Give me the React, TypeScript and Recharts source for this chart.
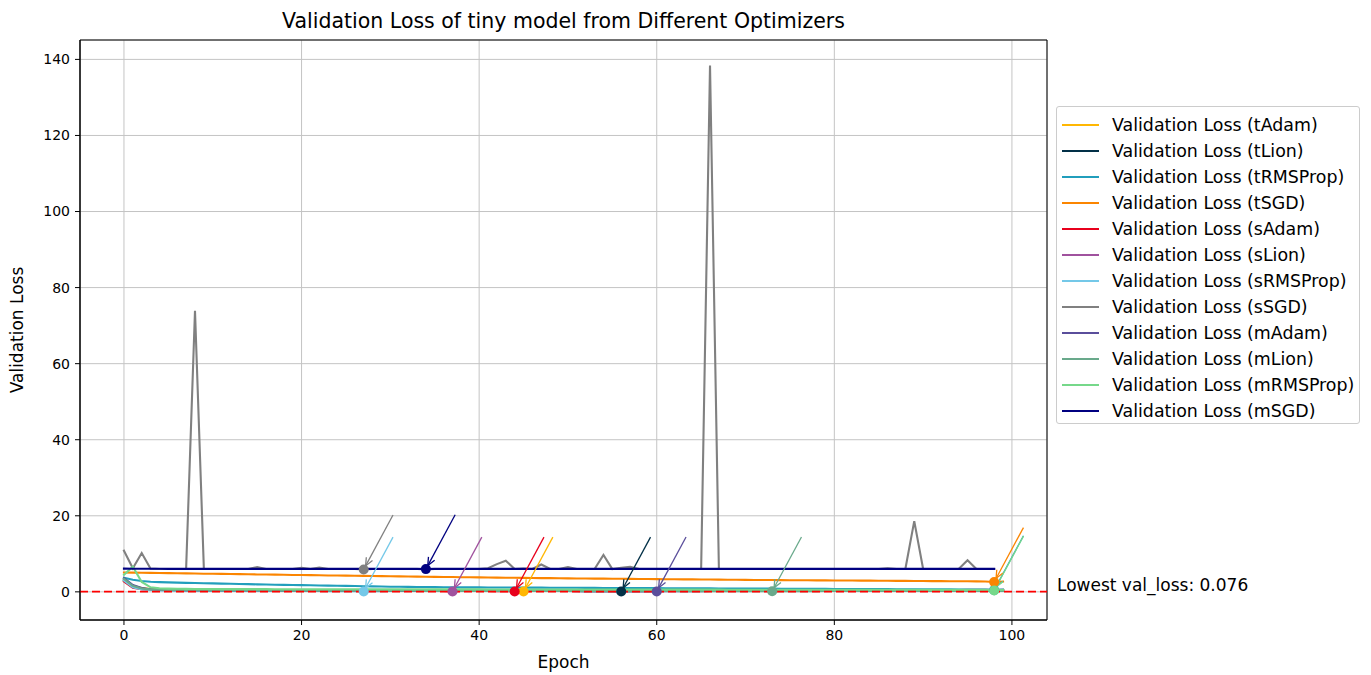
import React from 'react';
import { LineChart, Line, XAxis, YAxis, CartesianGrid, ReferenceLine, ReferenceDot, ReferenceArea } from 'recharts';

// epochs 0..99
const epochs = Array.from({ length: 100 }, (_, i) => i);

const seriesNames = ['tAdam', 'tLion', 'tRMSProp', 'tSGD', 'sAdam', 'sLion', 'sRMSProp', 'sSGD', 'mAdam', 'mLion', 'mRMSProp', 'mSGD'];
const seriesColors = ['#FFB703', '#023047', '#219EBC', '#FB8500', '#E8001C', '#A0529E', '#74C8E8', '#808080', '#5A4E9B', '#69A98B', '#76D88A', '#000080'];

const tAdam = [
  2.90, 1.60, 1.00, 0.75, 0.62, 0.55, 0.50, 0.47, 0.45, 0.43,
  0.41, 0.40, 0.39, 0.38, 0.37, 0.36, 0.35, 0.35, 0.34, 0.33,
  0.33, 0.32, 0.32, 0.31, 0.31, 0.30, 0.30, 0.29, 0.29, 0.28,
  0.28, 0.27, 0.27, 0.26, 0.26, 0.25, 0.25, 0.24, 0.24, 0.23,
  0.23, 0.22, 0.22, 0.21, 0.21, 0.10, 0.21, 0.22, 0.22, 0.23,
  0.23, 0.24, 0.24, 0.25, 0.25, 0.26, 0.26, 0.27, 0.27, 0.28,
  0.28, 0.29, 0.29, 0.30, 0.30, 0.31, 0.31, 0.32, 0.32, 0.33,
  0.33, 0.34, 0.34, 0.35, 0.35, 0.36, 0.36, 0.37, 0.37, 0.38,
  0.38, 0.39, 0.39, 0.40, 0.40, 0.41, 0.41, 0.42, 0.42, 0.43,
  0.43, 0.44, 0.44, 0.45, 0.45, 0.46, 0.46, 0.47, 0.47, 0.48,
];
const tLion = [
  3.10, 1.40, 0.85, 0.62, 0.52, 0.47, 0.44, 0.42, 0.40, 0.39,
  0.38, 0.37, 0.36, 0.36, 0.35, 0.34, 0.34, 0.33, 0.33, 0.32,
  0.32, 0.31, 0.31, 0.30, 0.30, 0.30, 0.29, 0.29, 0.28, 0.28,
  0.28, 0.27, 0.27, 0.27, 0.26, 0.26, 0.26, 0.25, 0.25, 0.25,
  0.24, 0.24, 0.24, 0.23, 0.23, 0.23, 0.22, 0.22, 0.22, 0.21,
  0.21, 0.21, 0.20, 0.20, 0.20, 0.19, 0.09, 0.19, 0.20, 0.20,
  0.21, 0.21, 0.22, 0.22, 0.23, 0.23, 0.24, 0.24, 0.25, 0.25,
  0.26, 0.26, 0.27, 0.27, 0.28, 0.28, 0.29, 0.29, 0.30, 0.30,
  0.31, 0.31, 0.32, 0.32, 0.33, 0.33, 0.34, 0.34, 0.35, 0.35,
  0.36, 0.36, 0.37, 0.37, 0.38, 0.38, 0.39, 0.39, 0.40, 0.40,
];
const tRMSProp = [
  3.70, 3.20, 2.85, 2.65, 2.55, 2.48, 2.42, 2.37, 2.32, 2.27,
  2.22, 2.17, 2.12, 2.07, 2.02, 1.97, 1.92, 1.88, 1.84, 1.80,
  1.76, 1.72, 1.68, 1.64, 1.60, 1.56, 1.52, 1.48, 1.44, 1.40,
  1.36, 1.33, 1.30, 1.28, 1.26, 1.24, 1.22, 1.20, 1.19, 1.18,
  1.17, 1.16, 1.15, 1.14, 1.13, 1.12, 1.11, 1.10, 1.09, 1.08,
  1.07, 1.06, 1.05, 1.04, 1.03, 1.02, 1.01, 1.00, 0.99, 0.98,
  0.97, 0.96, 0.95, 0.94, 0.93, 0.92, 0.91, 0.90, 0.89, 0.88,
  0.87, 0.86, 0.85, 0.84, 0.83, 0.82, 0.81, 0.80, 0.79, 0.78,
  0.77, 0.76, 0.75, 0.74, 0.73, 0.72, 0.71, 0.70, 0.69, 0.68,
  0.67, 0.66, 0.65, 0.64, 0.63, 0.62, 0.61, 0.60, 0.45, 0.59,
];
const tSGD = [
  5.10, 5.06, 5.03, 4.99, 4.96, 4.92, 4.89, 4.85, 4.82, 4.78,
  4.75, 4.72, 4.68, 4.65, 4.62, 4.58, 4.55, 4.52, 4.48, 4.45,
  4.42, 4.39, 4.35, 4.32, 4.29, 4.26, 4.23, 4.19, 4.16, 4.13,
  4.10, 4.07, 4.04, 4.01, 3.98, 3.95, 3.92, 3.89, 3.86, 3.83,
  3.80, 3.77, 3.75, 3.72, 3.70, 3.67, 3.65, 3.62, 3.60, 3.57,
  3.55, 3.53, 3.51, 3.49, 3.47, 3.45, 3.43, 3.41, 3.39, 3.37,
  3.35, 3.33, 3.31, 3.29, 3.27, 3.25, 3.23, 3.21, 3.19, 3.17,
  3.15, 3.13, 3.12, 3.10, 3.09, 3.07, 3.06, 3.04, 3.03, 3.01,
  3.00, 2.98, 2.97, 2.95, 2.94, 2.92, 2.91, 2.89, 2.88, 2.86,
  2.85, 2.83, 2.82, 2.80, 2.79, 2.77, 2.76, 2.74, 2.60, 2.72,
];
const sAdam = [
  2.70, 1.10, 0.70, 0.55, 0.48, 0.44, 0.41, 0.39, 0.37, 0.36,
  0.35, 0.34, 0.33, 0.33, 0.32, 0.31, 0.31, 0.30, 0.30, 0.29,
  0.29, 0.28, 0.28, 0.27, 0.27, 0.26, 0.26, 0.26, 0.25, 0.25,
  0.24, 0.24, 0.24, 0.23, 0.23, 0.23, 0.22, 0.22, 0.22, 0.21,
  0.21, 0.21, 0.20, 0.20, 0.09, 0.20, 0.21, 0.21, 0.22, 0.22,
  0.23, 0.23, 0.24, 0.24, 0.25, 0.25, 0.26, 0.26, 0.27, 0.27,
  0.28, 0.28, 0.29, 0.29, 0.30, 0.30, 0.31, 0.31, 0.32, 0.32,
  0.33, 0.33, 0.34, 0.34, 0.35, 0.35, 0.36, 0.36, 0.37, 0.37,
  0.38, 0.38, 0.39, 0.39, 0.40, 0.40, 0.41, 0.41, 0.42, 0.42,
  0.43, 0.43, 0.44, 0.44, 0.45, 0.45, 0.46, 0.46, 0.47, 0.47,
];
const sLion = [
  3.20, 1.50, 0.80, 0.60, 0.50, 0.45, 0.42, 0.40, 0.38, 0.37,
  0.36, 0.35, 0.34, 0.33, 0.33, 0.32, 0.31, 0.31, 0.30, 0.30,
  0.29, 0.29, 0.28, 0.28, 0.27, 0.27, 0.26, 0.26, 0.25, 0.25,
  0.25, 0.24, 0.24, 0.23, 0.23, 0.23, 0.22, 0.09, 0.22, 0.23,
  0.23, 0.24, 0.24, 0.25, 0.25, 0.26, 0.26, 0.27, 0.27, 0.28,
  0.28, 0.29, 0.29, 0.30, 0.30, 0.31, 0.31, 0.32, 0.32, 0.33,
  0.33, 0.34, 0.34, 0.35, 0.35, 0.36, 0.36, 0.37, 0.37, 0.38,
  0.38, 0.39, 0.39, 0.40, 0.40, 0.41, 0.41, 0.42, 0.42, 0.43,
  0.43, 0.44, 0.44, 0.45, 0.45, 0.46, 0.46, 0.47, 0.47, 0.48,
  0.48, 0.49, 0.49, 0.50, 0.50, 0.51, 0.51, 0.52, 0.52, 0.53,
];
const sRMSProp = [
  3.00, 1.20, 0.65, 0.48, 0.40, 0.36, 0.33, 0.31, 0.29, 0.28,
  0.27, 0.26, 0.25, 0.25, 0.24, 0.24, 0.23, 0.23, 0.22, 0.22,
  0.21, 0.21, 0.21, 0.20, 0.20, 0.20, 0.19, 0.076, 0.20, 0.20,
  0.21, 0.21, 0.22, 0.22, 0.23, 0.23, 0.24, 0.24, 0.25, 0.25,
  0.26, 0.26, 0.27, 0.27, 0.28, 0.28, 0.29, 0.29, 0.30, 0.30,
  0.31, 0.31, 0.32, 0.32, 0.33, 0.33, 0.34, 0.34, 0.35, 0.35,
  0.36, 0.36, 0.37, 0.37, 0.38, 0.38, 0.39, 0.39, 0.40, 0.40,
  0.41, 0.41, 0.42, 0.42, 0.43, 0.43, 0.44, 0.44, 0.45, 0.45,
  0.46, 0.46, 0.47, 0.47, 0.48, 0.48, 0.49, 0.49, 0.50, 0.50,
  0.51, 0.51, 0.52, 0.52, 0.53, 0.53, 0.54, 0.54, 0.55, 0.55,
];
const sSGD = [
  10.8, 6.2, 10.2, 6.1, 6.0, 6.0, 6.0, 6.0, 73.9, 6.0,
  6.0, 6.0, 6.0, 6.0, 6.0, 6.5, 6.0, 6.0, 6.0, 6.0,
  6.3, 6.0, 6.4, 6.0, 6.0, 6.0, 6.0, 5.9, 6.0, 6.0,
  6.0, 6.0, 6.0, 6.0, 6.0, 6.0, 6.0, 6.0, 6.0, 6.0,
  6.0, 6.2, 7.3, 8.2, 6.0, 6.1, 6.0, 7.2, 6.0, 6.0,
  6.5, 6.0, 6.0, 6.0, 9.7, 6.0, 6.3, 6.6, 6.0, 6.0,
  6.0, 6.0, 6.0, 6.0, 6.0, 6.0, 138.4, 6.0, 6.0, 6.0,
  6.0, 6.0, 6.0, 6.0, 6.0, 6.0, 6.0, 6.0, 6.0, 6.0,
  6.0, 6.0, 6.0, 6.0, 6.0, 6.0, 6.2, 6.0, 6.0, 18.6,
  6.0, 6.0, 6.0, 6.0, 6.0, 8.3, 6.0, 6.0, 6.0,
];
const mAdam = [
  3.60, 1.80, 1.00, 0.70, 0.58, 0.52, 0.48, 0.45, 0.43, 0.41,
  0.40, 0.39, 0.38, 0.37, 0.36, 0.35, 0.35, 0.34, 0.33, 0.33,
  0.32, 0.32, 0.31, 0.31, 0.30, 0.30, 0.29, 0.29, 0.28, 0.28,
  0.27, 0.27, 0.27, 0.26, 0.26, 0.26, 0.25, 0.25, 0.25, 0.24,
  0.24, 0.24, 0.23, 0.23, 0.23, 0.22, 0.22, 0.22, 0.21, 0.21,
  0.21, 0.20, 0.20, 0.20, 0.19, 0.19, 0.19, 0.18, 0.18, 0.18,
  0.11, 0.18, 0.19, 0.19, 0.20, 0.20, 0.21, 0.21, 0.22, 0.22,
  0.23, 0.23, 0.24, 0.24, 0.25, 0.25, 0.26, 0.26, 0.27, 0.27,
  0.28, 0.28, 0.29, 0.29, 0.30, 0.30, 0.31, 0.31, 0.32, 0.32,
  0.33, 0.33, 0.34, 0.34, 0.35, 0.35, 0.36, 0.36, 0.37, 0.37,
];
const mLion = [
  3.40, 1.60, 0.90, 0.66, 0.55, 0.49, 0.46, 0.43, 0.41, 0.40,
  0.39, 0.38, 0.37, 0.36, 0.35, 0.35, 0.34, 0.34, 0.33, 0.33,
  0.32, 0.32, 0.31, 0.31, 0.31, 0.30, 0.30, 0.30, 0.29, 0.29,
  0.29, 0.28, 0.28, 0.28, 0.27, 0.27, 0.27, 0.27, 0.26, 0.26,
  0.26, 0.26, 0.25, 0.25, 0.25, 0.25, 0.24, 0.24, 0.24, 0.24,
  0.23, 0.23, 0.23, 0.23, 0.22, 0.22, 0.22, 0.22, 0.21, 0.21,
  0.21, 0.21, 0.21, 0.20, 0.20, 0.20, 0.20, 0.20, 0.19, 0.19,
  0.19, 0.19, 0.19, 0.14, 0.19, 0.19, 0.20, 0.20, 0.20, 0.21,
  0.21, 0.21, 0.22, 0.22, 0.22, 0.23, 0.23, 0.23, 0.24, 0.24,
  0.24, 0.25, 0.25, 0.25, 0.26, 0.26, 0.26, 0.27, 0.27, 0.27,
];
const mRMSProp = [
  4.50, 6.60, 2.60, 1.20, 0.95, 0.85, 0.80, 0.78, 0.76, 0.75,
  0.74, 0.73, 0.73, 0.72, 0.72, 0.71, 0.71, 0.70, 0.70, 0.70,
  0.69, 0.69, 0.69, 0.68, 0.68, 0.68, 0.67, 0.67, 0.67, 0.66,
  0.66, 0.66, 0.66, 0.65, 0.65, 0.65, 0.65, 0.64, 0.64, 0.64,
  0.64, 0.63, 0.63, 0.63, 0.63, 0.62, 0.62, 0.62, 0.62, 0.61,
  0.61, 0.61, 0.61, 0.60, 0.60, 0.60, 0.60, 0.60, 0.59, 0.59,
  0.59, 0.59, 0.59, 0.58, 0.58, 0.58, 0.58, 0.58, 0.57, 0.57,
  0.57, 0.57, 0.57, 0.56, 0.56, 0.56, 0.56, 0.56, 0.56, 0.55,
  0.55, 0.55, 0.55, 0.55, 0.55, 0.54, 0.54, 0.54, 0.54, 0.54,
  0.54, 0.53, 0.53, 0.53, 0.53, 0.53, 0.53, 0.52, 0.35, 0.52,
];
const mSGD = [
  6.10, 6.08, 6.07, 6.06, 6.06, 6.05, 6.05, 6.05, 6.05, 6.05,
  6.05, 6.05, 6.04, 6.04, 6.04, 6.04, 6.04, 6.04, 6.04, 6.04,
  6.04, 6.04, 6.03, 6.03, 6.03, 6.03, 6.03, 6.03, 6.03, 6.03,
  6.03, 6.03, 6.03, 6.03, 5.98, 6.03, 6.03, 6.03, 6.03, 6.03,
  6.03, 6.03, 6.03, 6.03, 6.03, 6.03, 6.03, 6.03, 6.03, 6.03,
  6.03, 6.03, 6.03, 6.03, 6.03, 6.03, 6.03, 6.03, 6.03, 6.03,
  6.03, 6.03, 6.03, 6.03, 6.03, 6.03, 6.03, 6.03, 6.03, 6.03,
  6.03, 6.03, 6.03, 6.03, 6.03, 6.03, 6.03, 6.03, 6.03, 6.03,
  6.03, 6.03, 6.03, 6.03, 6.03, 6.03, 6.03, 6.03, 6.03, 6.03,
  6.03, 6.03, 6.03, 6.03, 6.03, 6.03, 6.03, 6.03, 6.03,
];

const seriesValues = [tAdam, tLion, tRMSProp, tSGD, sAdam, sLion, sRMSProp, sSGD, mAdam, mLion, mRMSProp, mSGD];

const lowestValLoss = 0.076;
const xTicks = [0, 20, 40, 60, 80, 100];
const yTicks = [0, 20, 40, 60, 80, 100, 120, 140];
const xDomain = [-4.95, 103.95];
const yDomain = [-7.4, 145.1];

const chartData = epochs.map((epoch, i) => {
  const row: any = { epoch };
  seriesNames.forEach((name, j) => {
    row[name] = seriesValues[j][i] ?? null;
  });
  return row;
});

// position of the lowest value of every run
const minima = seriesNames.map((name, j) => {
  const vals = seriesValues[j];
  let idx = 0;
  vals.forEach((v, i) => { if (v < vals[idx]) idx = i; });
  return { name, color: seriesColors[j], epoch: epochs[idx], value: vals[idx] };
});

const Arrow = (props: any) => {
  const { x1, y1, x2, y2, stroke } = props;
  const dx = x2 - x1;
  const dy = y2 - y1;
  const len = Math.hypot(dx, dy) || 1;
  const ux = dx / len;
  const uy = dy / len;
  const tx = x2 - ux * 4;
  const ty = y2 - uy * 4;
  const bx = tx - ux * 8;
  const by = ty - uy * 8;
  const px = -uy;
  const py = ux;
  return (
    <g>
      <line x1={x1} y1={y1} x2={tx} y2={ty} stroke={stroke} strokeWidth={1.3} />
      <polyline
        points={`${bx + px * 3.5},${by + py * 3.5} ${tx},${ty} ${bx - px * 3.5},${by - py * 3.5}`}
        fill="none"
        stroke={stroke}
        strokeWidth={1.3}
      />
    </g>
  );
};

const LowestLabel = (props: any) => {
  const { viewBox } = props;
  return (
    <text x={viewBox.x + viewBox.width + 10} y={viewBox.y - 1} fontSize={17} fill="#000">
      {`Lowest val_loss: ${lowestValLoss}`}
    </text>
  );
};

const App = () => {
  return (
    <div style={{ position: 'relative', width: 1355, height: 664, fontFamily: 'DejaVu Sans, sans-serif' }}>
      <div style={{ position: 'absolute', left: 72, width: 967, top: 1, textAlign: 'center', fontSize: 20.5, color: '#000', whiteSpace: 'nowrap' }}>
        Validation Loss of tiny model from Different Optimizers
      </div>
      <LineChart width={1355} height={664} data={chartData} margin={{ top: 32, right: 316, bottom: 22, left: 0 }}>
        <CartesianGrid stroke="#c4c4c4" strokeWidth={1} />
        <XAxis
          dataKey="epoch"
          type="number"
          domain={xDomain}
          ticks={xTicks}
          allowDataOverflow
          height={30}
          tickSize={5}
          tickMargin={5}
          stroke="#000"
          tick={{ fill: '#000', fontSize: 14 }}
          label={{ value: 'Epoch', position: 'bottom', offset: 6, fill: '#000', fontSize: 17 }}
        />
        <YAxis
          type="number"
          domain={yDomain}
          ticks={yTicks}
          allowDataOverflow
          width={72}
          tickSize={5}
          tickMargin={5}
          stroke="#000"
          tick={{ fill: '#000', fontSize: 14 }}
          label={{ value: 'Validation Loss', angle: -90, position: 'insideLeft', offset: 9, fill: '#000', fontSize: 17, style: { textAnchor: 'middle' } }}
        />
        {seriesNames.map((name, j) => (
          <Line
            key={name}
            type="linear"
            dataKey={name}
            stroke={seriesColors[j]}
            strokeWidth={2.1}
            strokeLinecap="square"
            dot={false}
            activeDot={false}
            isAnimationActive={false}
          />
        ))}
        <ReferenceLine
          y={lowestValLoss}
          stroke="#ff0000"
          strokeWidth={1.8}
          strokeDasharray="8 4"
          label={<LowestLabel />}
        />
        {minima.map((m) => (
          <ReferenceDot key={`dot-${m.name}`} x={m.epoch} y={m.value} r={5} fill={m.color} stroke="none" />
        ))}
        {minima.map((m) => (
          <ReferenceLine
            key={`arrow-${m.name}`}
            segment={[{ x: m.epoch + 3.3, y: m.value + 14.3 }, { x: m.epoch, y: m.value }]}
            stroke={m.color}
            shape={(p: any) => <Arrow {...p} stroke={m.color} />}
          />
        ))}
        <ReferenceArea x1={xDomain[0]} x2={xDomain[1]} y1={yDomain[0]} y2={yDomain[1]} fill="none" stroke="#000" strokeWidth={1} />
      </LineChart>
      <div
        style={{
          position: 'absolute',
          left: 1048,
          top: 98,
          width: 304,
          height: 318,
          border: '1px solid #cccccc',
          borderRadius: 3,
          paddingTop: 5,
          boxSizing: 'border-box',
          background: '#fff',
        }}
      >
        {seriesNames.map((name, j) => (
          <div key={name} style={{ display: 'flex', alignItems: 'center', height: 26 }}>
            <div style={{ width: 37, height: 2, background: seriesColors[j], marginLeft: 5, marginRight: 13 }} />
            <span style={{ fontSize: 17.4, color: '#000', whiteSpace: 'nowrap' }}>{`Validation Loss (${name})`}</span>
          </div>
        ))}
      </div>
    </div>
  );
};

export default App;
